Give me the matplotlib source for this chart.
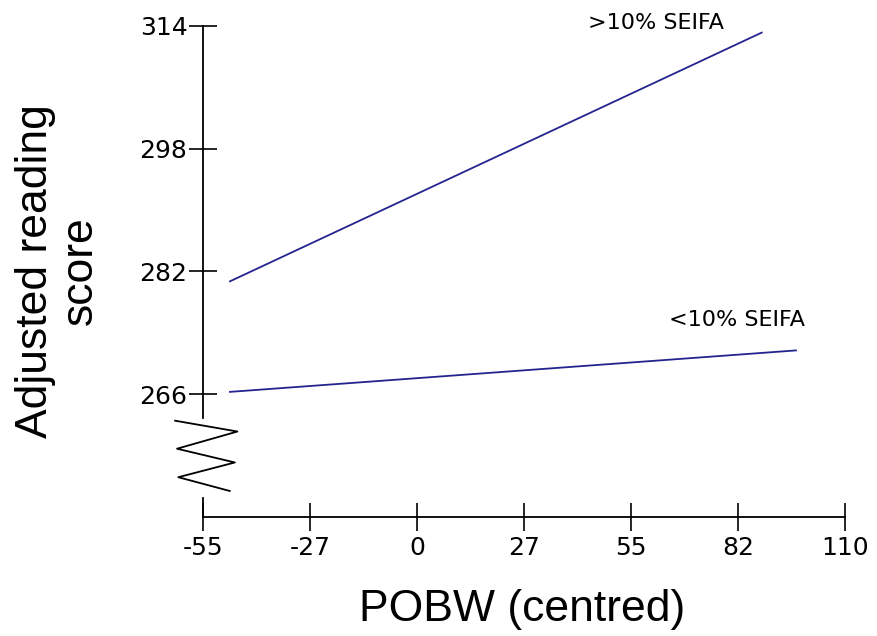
import matplotlib
matplotlib.use("Agg")
import matplotlib.pyplot as plt

# values
x_ticks = [-55, -27.5, 0, 27.5, 55, 82.5, 110]
x_tick_labels = ["-55", "-27", "0", "27", "55", "82", "110"]
y_ticks = [266, 282, 298, 314]

pobw_range = [-48.0, 88.6]
high_seifa = [280.7, 313.1]      # >10% SEIFA
pobw_range_low = [-48.0, 97.4]
low_seifa = [266.3, 271.7]       # <10% SEIFA

line_color = "#24248f"
plt.rcParams["font.family"] = ["Liberation Sans", "DejaVu Sans"]

fig = plt.figure(figsize=(8.78, 6.36), dpi=100)
ax = fig.add_axes([0.2309, 0.1871, 0.7315, 0.7725])

ax.plot(pobw_range, high_seifa, color=line_color, lw=1.3)
ax.plot(pobw_range_low, low_seifa, color=line_color, lw=1.3)

ax.text(44.1, 314.35, ">10% SEIFA", fontsize=16, family="DejaVu Sans",
        va="center", ha="left", clip_on=False)
ax.text(64.9, 275.7, "<10% SEIFA", fontsize=16, family="DejaVu Sans",
        va="center", ha="left", clip_on=False)

ax.set_xlim(-55, 110)
ax.set_ylim(250, 314)
ax.set_xticks(x_ticks)
ax.set_xticklabels(x_tick_labels, family="DejaVu Sans")
ax.set_yticks(y_ticks)
ax.set_yticklabels([str(v) for v in y_ticks], family="DejaVu Sans")

for side in ("top", "right", "left"):
    ax.spines[side].set_visible(False)
ax.spines["bottom"].set_linewidth(1.3)

ax.tick_params(axis="both", direction="inout", length=20, width=1.2, labelsize=18)
ax.tick_params(axis="x", pad=4)
ax.tick_params(axis="y", pad=1)

# broken y axis drawn by hand, with zigzag
kw = dict(color="black", lw=1.3, transform=ax.transAxes, clip_on=False)
ax.plot([0, 0], [1, 0.2015], **kw)
ax.plot([0, 0], [0.0387, 0], **kw)
zig_x = [-0.043, 0.054, -0.040, 0.050, -0.038, 0.042]
zig_y = [0.196, 0.174, 0.139, 0.111, 0.081, 0.053]
ax.plot(zig_x, zig_y, **kw)

fig.text(522.5 / 878, 1 - 610 / 636, "POBW (centred)", fontsize=32,
         ha="center", va="center")
fig.text(58 / 878, 1 - 271 / 636, "Adjusted reading\nscore", fontsize=32,
         ha="center", va="center", rotation=90, linespacing=1.1,
         multialignment="center")

fig.savefig("out.png", dpi=100)
